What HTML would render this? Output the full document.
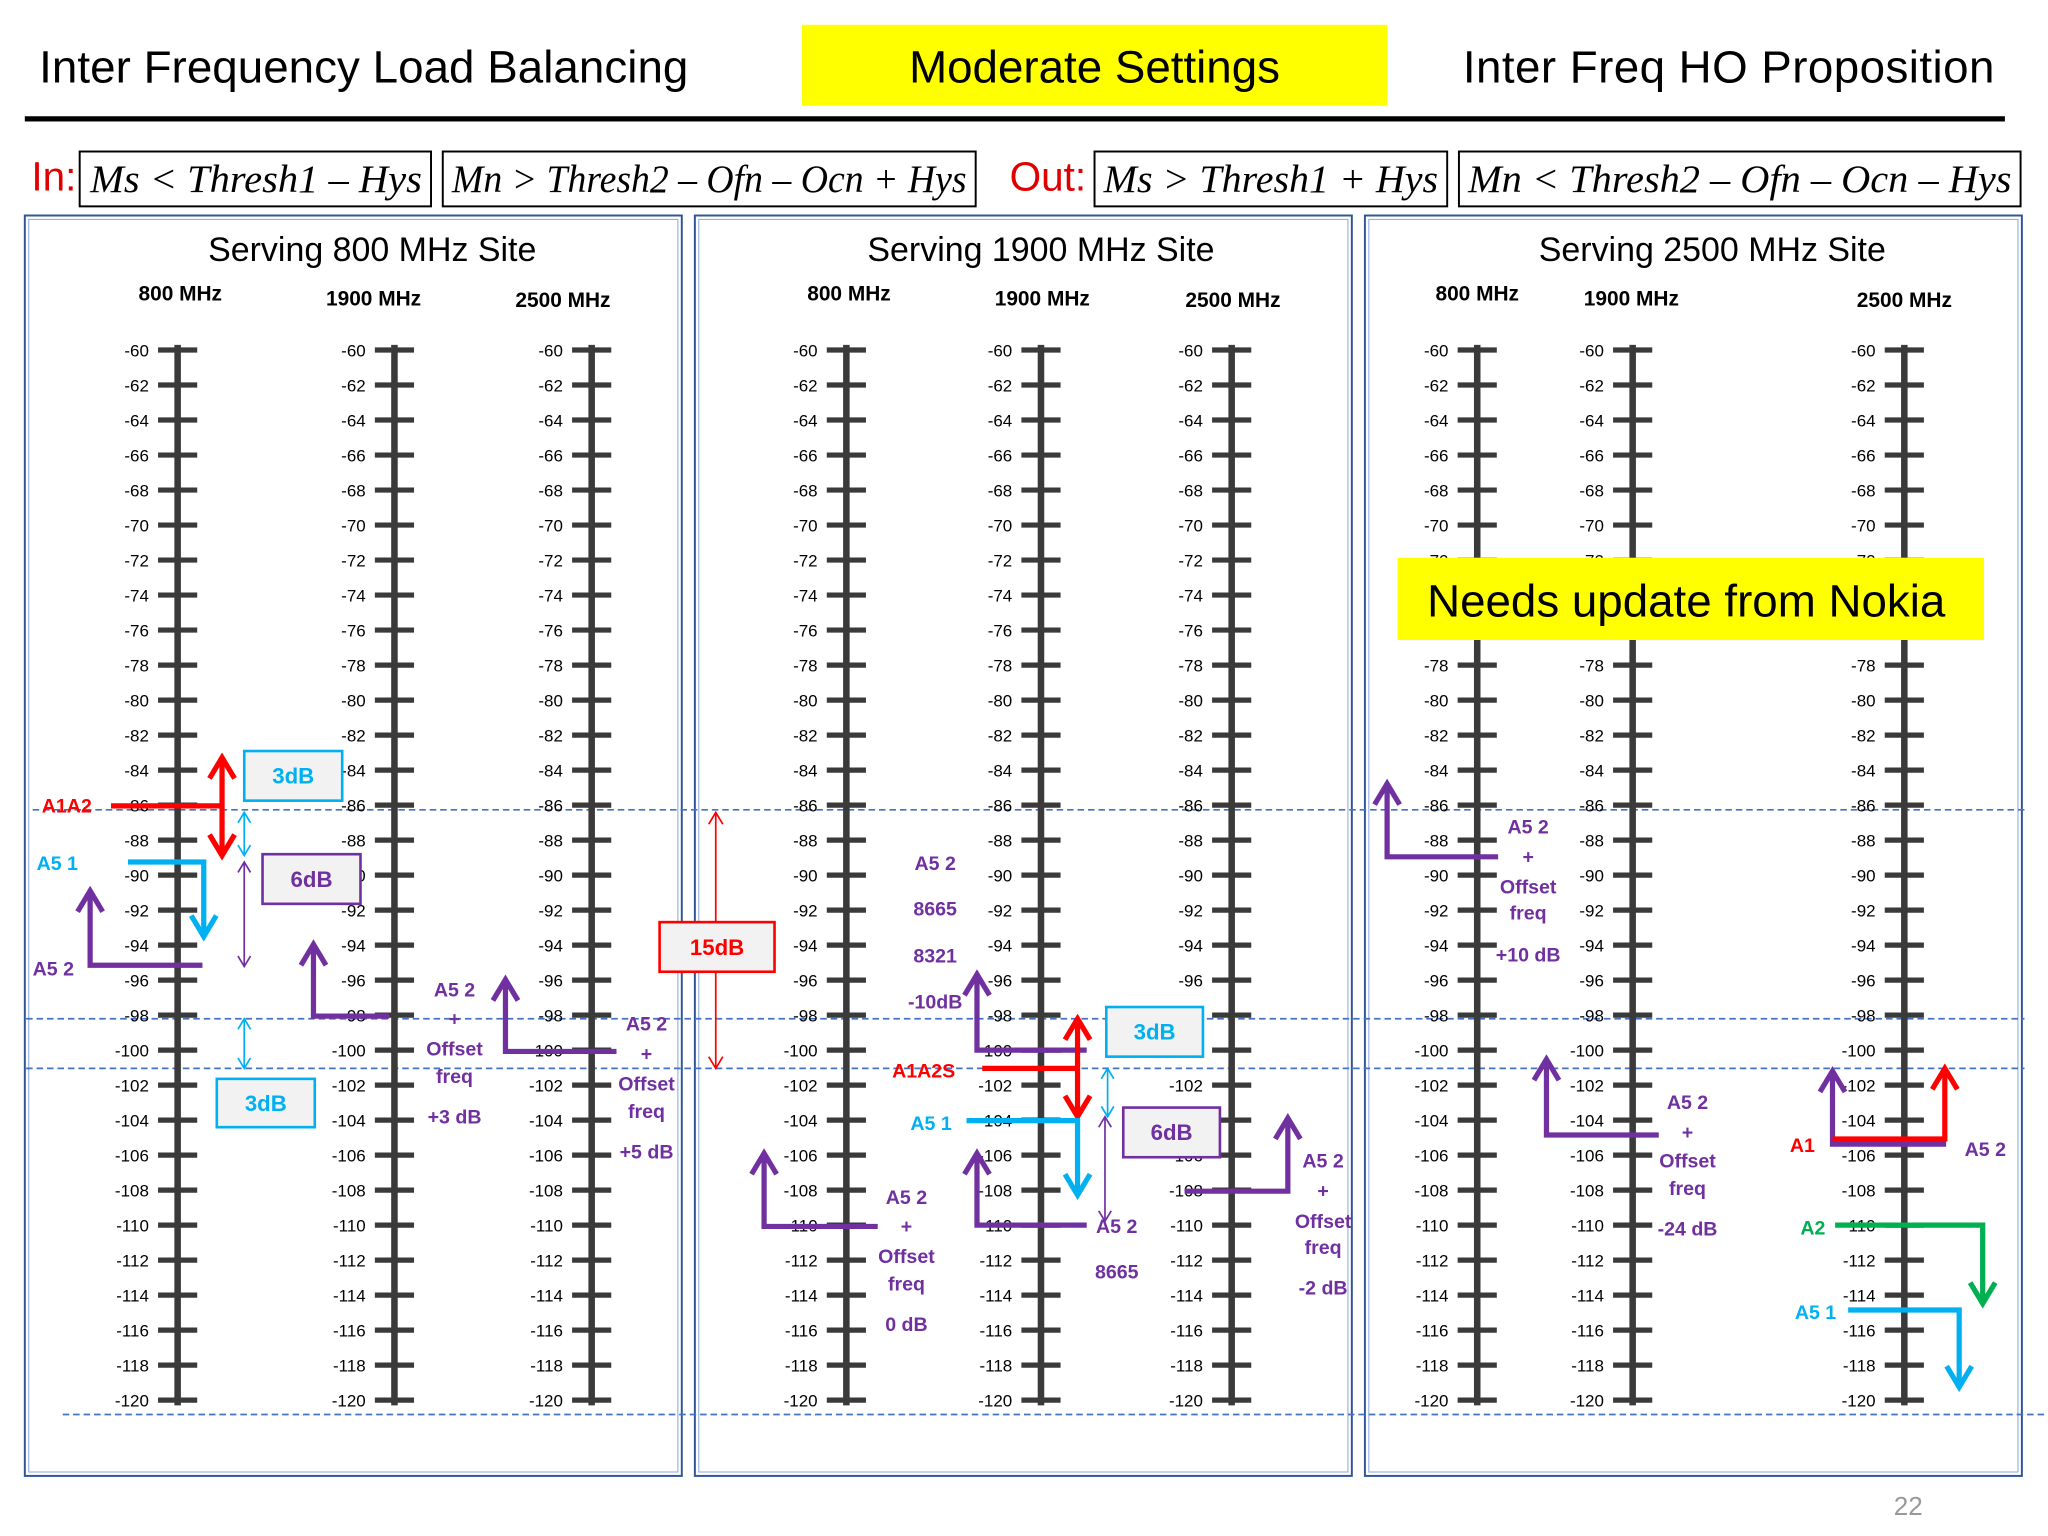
<!DOCTYPE html>
<html><head><meta charset="utf-8"><style>
html,body{margin:0;padding:0;background:#fff;}
svg{display:block;}
text{font-family:"Liberation Sans",sans-serif;}
</style></head><body>
<svg id="s" width="2048" height="1536" viewBox="0 0 1568 1176" xmlns="http://www.w3.org/2000/svg">
<g>
<text x="30" y="63" font-size="35" fill="#000" textLength="497">Inter Frequency Load Balancing</text>
<rect x="614" y="19" width="448" height="62" fill="#ffff00"/>
<text x="838" y="63" font-size="35" text-anchor="middle" fill="#000">Moderate Settings</text>
<text x="1120" y="63" font-size="35" fill="#000" textLength="407">Inter Freq HO Proposition</text>
<rect x="19" y="89" width="1516" height="4" fill="#000"/>
</g>
<g font-style="italic" font-size="30">
<text x="24" y="146" font-size="31" font-style="normal" fill="#e00000">In:</text>
<rect x="61" y="116" width="269" height="42" fill="none" stroke="#000" stroke-width="1.5"/>
<text x="69" y="147" textLength="254" lengthAdjust="spacingAndGlyphs" style="font-family:'Liberation Serif',serif">Ms &lt; Thresh1 – Hys</text>
<rect x="339" y="116" width="408" height="42" fill="none" stroke="#000" stroke-width="1.5"/>
<text x="346" y="147" textLength="394" lengthAdjust="spacingAndGlyphs" style="font-family:'Liberation Serif',serif">Mn &gt; Thresh2 – Ofn – Ocn + Hys</text>
<text x="773" y="146" font-size="31" font-style="normal" fill="#e00000">Out:</text>
<rect x="838" y="116" width="270" height="42" fill="none" stroke="#000" stroke-width="1.5"/>
<text x="845" y="147" textLength="256" lengthAdjust="spacingAndGlyphs" style="font-family:'Liberation Serif',serif">Ms &gt; Thresh1 + Hys</text>
<rect x="1117" y="116" width="430" height="42" fill="none" stroke="#000" stroke-width="1.5"/>
<text x="1124" y="147" textLength="416" lengthAdjust="spacingAndGlyphs" style="font-family:'Liberation Serif',serif">Mn &lt; Thresh2 – Ofn – Ocn – Hys</text>
</g>
<g id="panels"></g>
<g id="dashes"></g>
<g id="axes"></g>
<g id="ann"></g>
<text x="1461" y="1160" font-size="20" fill="#999" text-anchor="middle">22</text>
</svg>
<script>
const NS="http://www.w3.org/2000/svg";
const tickValues=[-60,-62,-64,-66,-68,-70,-72,-74,-76,-78,-80,-82,-84,-86,-88,-90,-92,-94,-96,-98,-100,-102,-104,-106,-108,-110,-112,-114,-116,-118,-120];
const panelTitles=["Serving 800 MHz Site","Serving 1900 MHz Site","Serving 2500 MHz Site"];
const bandNames=["800 MHz","1900 MHz","2500 MHz"];
const yDomain=[-60,-120];
const yRange=[268,1072];
function y(v){return yRange[0]+(v-yDomain[0])/(yDomain[1]-yDomain[0])*(yRange[1]-yRange[0]);}
function el(tag,attrs,parent,txt){const e=document.createElementNS(NS,tag);for(const k in attrs)e.setAttribute(k,attrs[k]);if(txt!==undefined)e.textContent=txt;parent.appendChild(e);return e;}
const panelsG=document.getElementById('panels'),axesG=document.getElementById('axes'),dashG=document.getElementById('dashes'),ann=document.getElementById('ann');
const panelX=[19,532,1045],panelW=503;
const titleX=[285,797,1311];
const axisX=[[136,302,453],[648,797,943],[1131,1250,1458]];
const headX=[[138,286,431],[650,798,944],[1131,1249,1458]];
const headY=[230,234,235];
panelX.forEach((px,i)=>{
 const r=el('rect',{x:px,y:165,width:panelW,height:965,fill:'none',stroke:'#2f5597','stroke-width':1.5},panelsG);
 
 const r2=el('rect',{x:px+3,y:168,width:panelW-6,height:959,fill:'none',stroke:'#8faadc','stroke-width':0.8},panelsG);
 
 const t=el('text',{x:titleX[i],y:200,'font-size':26,'text-anchor':'middle',fill:'#000'},panelsG,panelTitles[i]);
 
 axisX[i].forEach((ax,j)=>{
  const h=el('text',{x:headX[i][j],y:headY[j],'font-size':16,'font-weight':'bold','text-anchor':'middle',fill:'#000'},axesG,bandNames[j]);
  
  const l=el('line',{x1:ax,y1:y(-60)-4,x2:ax,y2:y(-120)+4,stroke:'#3a3a3a','stroke-width':5},axesG);
  
  tickValues.forEach(v=>{
   const tk=el('line',{x1:ax-15,y1:y(v),x2:ax+15,y2:y(v),stroke:'#3a3a3a','stroke-width':4},axesG);
   
   const tl=el('text',{x:ax-22,y:y(v)+5,'font-size':13,'text-anchor':'end',fill:'#000'},axesG,String(v));
   
  });
 });
});
[[25,1552,620],[20,1550,780],[20,1550,818],[48,1568,1083]].forEach(d=>{
 const l=el('line',{x1:d[0],x2:d[1],y1:d[2],y2:d[2],stroke:'#4472c4','stroke-width':1.3,'stroke-dasharray':'5,3'},dashG);
 
});
const RED='#ff0000',CY='#00b0f0',PU='#7030a0',GR='#00b050';
function head(x,yv,dir,c,w,s){const d=dir==='up'?`M${x-s*0.6},${yv+s} L${x},${yv} L${x+s*0.6},${yv+s}`:`M${x-s*0.6},${yv-s} L${x},${yv} L${x+s*0.6},${yv-s}`;
 const p=el('path',{d:d,fill:'none',stroke:c,'stroke-width':w},ann);}
function arrow(pts,c,dir){const p=el('polyline',{points:pts.map(q=>q.join(',')).join(' '),fill:'none',stroke:c,'stroke-width':4},ann);
 
 const e=pts[pts.length-1];head(e[0],e[1],dir,c,4,16);}
function dbl(x,y1,y2,c,w,s){const l=el('line',{x1:x,x2:x,y1:y1,y2:y2,stroke:c,'stroke-width':w},ann);
 head(x,y1,'up',c,w,s);head(x,y2,'down',c,w,s);}
function box(x,y0,w,h,c,t){const r=el('rect',{x:x,y:y0,width:w,height:h,fill:'#f2f2f2',stroke:c,'stroke-width':2},ann);
 
 const tx=el('text',{x:x+w/2,y:y0+h/2+6,'font-size':17,'font-weight':'bold','text-anchor':'middle',fill:c},ann,t);
 }
function txt(x,yv,s,c,anchor){const t=el('text',{x:x,y:yv,'font-size':15,'font-weight':'bold','text-anchor':anchor||'middle',fill:c},ann,s);
 }
function stack(x,ys,lines,c){lines.forEach((s,i)=>txt(x,ys[i],s,c));}
// panel 1
const r1=el('line',{x1:85,y1:617,x2:170,y2:617,stroke:RED,'stroke-width':4},ann);
dbl(170,580,655,RED,4,16);
txt(32,622,'A1A2',RED,'start');
box(187,575,75,38,CY,'3dB');
dbl(187,622,655,CY,1.3,8);
box(201,654,75,38,PU,'6dB');
dbl(187,660,740,PU,1.3,8);
txt(28,666,'A5 1',CY,'start');arrow([[98,660],[156,660],[156,717]],CY,'down');
txt(25,747,'A5 2',PU,'start');arrow([[155,739],[69,739],[69,682]],PU,'up');
dbl(187,780,818,CY,1.3,8);
box(166,826,75,37,CY,'3dB');
arrow([[298,778],[240,778],[240,723]],PU,'up');
stack(348,[763,785,808,829,860],['A5 2','+','Offset','freq','+3 dB'],PU);
arrow([[472,805],[387,805],[387,750]],PU,'up');
stack(495,[789,812,835,856,887],['A5 2','+','Offset','freq','+5 dB'],PU);
// panel 2
dbl(548,622,818,RED,1.3,9);
box(505,706,88,38,RED,'15dB');
stack(716,[666,701,737,772],['A5 2','8665','8321','-10dB'],PU);
arrow([[832,804],[748,804],[748,746]],PU,'up');
txt(683,825,'A1A2S',RED,'start');
const r2=el('line',{x1:752,y1:818,x2:825,y2:818,stroke:RED,'stroke-width':4},ann);
dbl(825,780,855,RED,4,16);
box(847,771,74,38,CY,'3dB');
dbl(848,818,855,CY,1.3,8);
box(860,848,74,38,PU,'6dB');
dbl(846,855,935,PU,1.3,8);
txt(697,865,'A5 1',CY,'start');arrow([[740,858],[825,858],[825,915]],CY,'down');
arrow([[672,939],[585,939],[585,883]],PU,'up');
stack(694,[922,944,967,988,1019],['A5 2','+','Offset','freq','0 dB'],PU);
arrow([[832,938],[748,938],[748,883]],PU,'up');
stack(855,[944,979],['A5 2','8665'],PU);
arrow([[907,912],[986,912],[986,856]],PU,'up');
stack(1013,[894,917,940,960,991],['A5 2','+','Offset','freq','-2 dB'],PU);
// panel 3
arrow([[1147,656],[1062,656],[1062,600]],PU,'up');
stack(1170,[638,661,684,704,736],['A5 2','+','Offset','freq','+10 dB'],PU);
arrow([[1270,869],[1184,869],[1184,811]],PU,'up');
stack(1292,[849,872,894,915,946],['A5 2','+','Offset','freq','-24 dB'],PU);
arrow([[1490,876],[1403,876],[1403,820]],PU,'up');
arrow([[1403,872],[1489,872],[1489,818]],RED,'up');
txt(1380,882,'A1',RED);txt(1520,885,'A5 2',PU);
txt(1388,945,'A2',GR);arrow([[1405,938],[1518,938],[1518,998]],GR,'down');
txt(1390,1010,'A5 1',CY);arrow([[1415,1003],[1500,1003],[1500,1062]],CY,'down');
// yellow note
const yb=el('rect',{x:1070,y:427,width:449,height:63,fill:'#ffff00'},ann);
const yt=el('text',{x:1291,y:472,'font-size':35,'text-anchor':'middle',fill:'#000'},ann,'Needs update from Nokia');
</script>
</body></html>
